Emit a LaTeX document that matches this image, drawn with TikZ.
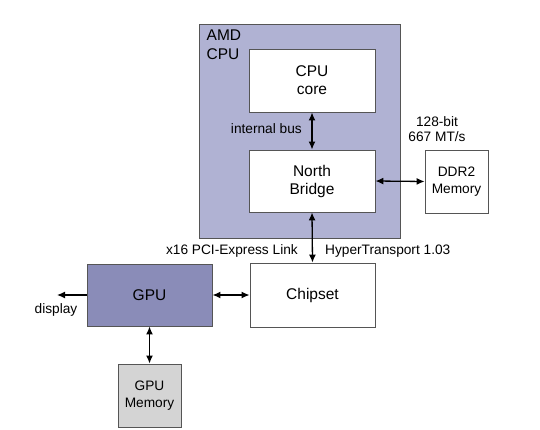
\documentclass[tikz,border=0pt]{standalone}
\usepackage{fontspec}
\setmainfont{Liberation Sans}
\usetikzlibrary{arrows.meta}
\definecolor{cpufill}{HTML}{B0B2D3}
\definecolor{gpufill}{HTML}{8A8CB8}
\definecolor{memfill}{HTML}{D4D4D4}
\definecolor{edge}{HTML}{555555}
\begin{document}
\begin{tikzpicture}[x=1pt,y=-1pt,
  box/.style={draw=edge,line width=0.9pt,fill=white,inner sep=0pt,align=center,font=\fontsize{15.5}{18}\selectfont},
  membox/.style={box,font=\fontsize{13.7}{17}\selectfont},
  lbl/.style={font=\fontsize{13.7}{16}\selectfont,inner sep=0pt,align=center},
  conn/.style={line width=1.3pt,{Latex[length=8pt,width=7pt]}-{Latex[length=8pt,width=7pt]}},
  oneway/.style={line width=1.3pt,-{Latex[length=8pt,width=7pt]}}]
\useasboundingbox (0,0) rectangle (540,430);
\node[box,fill=cpufill,minimum width=201pt,minimum height=214pt] (cpu) at (299.5,131.5) {};
\node[lbl,anchor=north west,align=left,font=\fontsize{15.5}{19}\selectfont] (cpulbl) at (206.5,30) {AMD\\CPU};
\node[box,minimum width=126pt,minimum height=63pt] (core) at (312,80.5) {CPU\\core};
\node[box,minimum width=126pt,minimum height=62pt] (nb) at (312,181) {North\\Bridge};
\node[membox,minimum width=63pt,minimum height=63pt] (ddr) at (456.5,181.5) {DDR2\\Memory};
\node[box,minimum width=125pt,minimum height=64pt] (chip) at (312.5,295) {Chipset};
\node[box,fill=gpufill,minimum width=125pt,minimum height=62pt] (gpu) at (149.5,295) {GPU};
\node[membox,fill=memfill,minimum width=63pt,minimum height=63pt] (gmem) at (149.5,395.5) {GPU\\Memory};
\coordinate (disp) at (57,295);
\draw[conn] (core.south) -- (nb.north);
\node[lbl,anchor=east] (ib) at (302,129) {internal bus};
\draw[conn] (nb.east) -- (ddr.west);
\node[lbl,font=\fontsize{13.7}{15.5}\selectfont] (ddrlbl) at (437,129) {128-bit\\667 MT/s};
\draw[conn] (nb.south) -- (chip.north);
\node[lbl,anchor=east] (pcie) at (298,251) {x16 PCI-Express Link};
\node[lbl,anchor=west] (ht) at (325,251) {HyperTransport 1.03};
\draw[conn] (gpu.east) -- (chip.west);
\draw[oneway] (gpu.west) -- (disp);
\node[lbl] (displbl) at (56,310) {display};
\draw[conn] (gpu.south) -- (gmem.north);
\end{tikzpicture}
\end{document}
